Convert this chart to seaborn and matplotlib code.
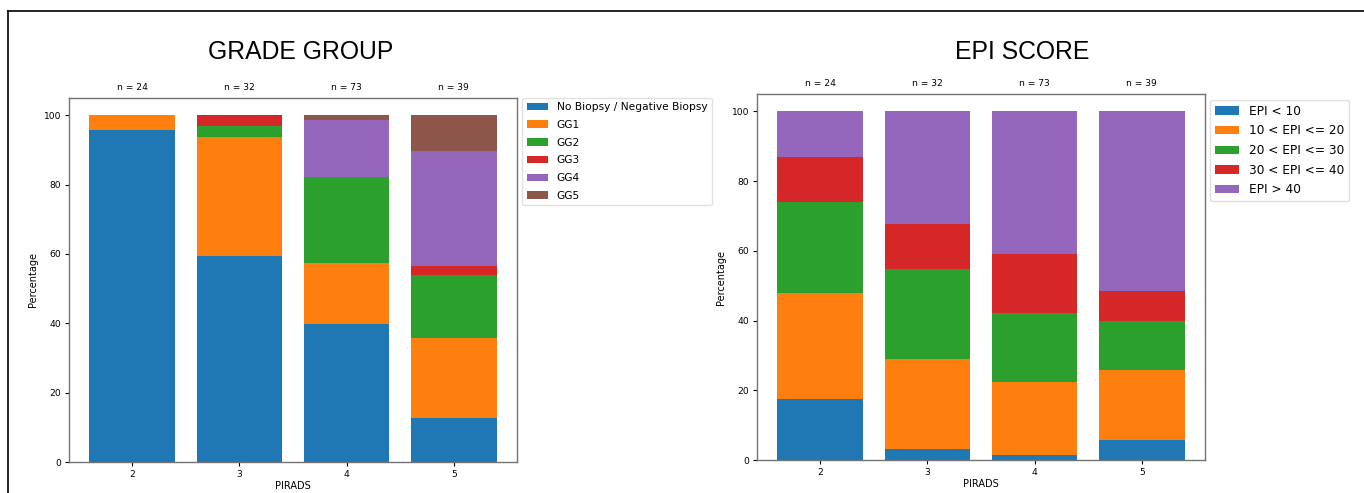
import matplotlib
matplotlib.use("Agg")
import matplotlib.pyplot as plt
from matplotlib.lines import Line2D
import seaborn as sns
import numpy as np

# PIRADS categories and cohort sizes
pirads = ["2", "3", "4", "5"]
n_labels = ["n = 24", "n = 32", "n = 73", "n = 39"]

# Grade group distribution (% of patients per PIRADS category)
gg_names = ["No Biopsy / Negative Biopsy", "GG1", "GG2", "GG3", "GG4", "GG5"]
gg_neg = [95.8, 59.4, 39.7, 12.8]
gg_1 = [4.2, 34.4, 17.8, 23.1]
gg_2 = [0.0, 3.1, 24.7, 17.9]
gg_3 = [0.0, 3.1, 0.0, 2.6]
gg_4 = [0.0, 0.0, 16.4, 33.3]
gg_5 = [0.0, 0.0, 1.4, 10.3]

# EPI score distribution (% of patients per PIRADS category)
epi_names = ["EPI < 10", "10 < EPI <= 20", "20 < EPI <= 30", "30 < EPI <= 40", "EPI > 40"]
epi_lt10 = [17.4, 3.2, 1.4, 5.7]
epi_10_20 = [30.4, 25.8, 21.1, 20.0]
epi_20_30 = [26.1, 25.8, 19.7, 14.3]
epi_30_40 = [13.0, 12.9, 16.9, 8.6]
epi_gt40 = [13.1, 32.3, 40.9, 51.4]

palette = sns.color_palette("tab10")

W, H = 1364, 493
fig = plt.figure(figsize=(W / 100, H / 100), dpi=100)
fig.patch.set_facecolor("white")

tick_fs = 6.6


def stacked(ax, series, names, legend_fs, legend_top, spacing):
    bottom = np.zeros(len(pirads))
    for i, (vals, name) in enumerate(zip(series, names)):
        sns.barplot(x=pirads, y=vals, ax=ax, color=palette[i], bottom=bottom.copy(),
                    label=name, width=0.8, saturation=1, linewidth=0)
        bottom += np.asarray(vals)
    ax.set_xlim(-0.59, 3.59)
    ax.set_ylim(0, 105)
    ax.set_yticks([0, 20, 40, 60, 80, 100])
    ax.set_xlabel("PIRADS", fontsize=tick_fs + 0.4, labelpad=2)
    ax.set_ylabel("Percentage", fontsize=tick_fs + 0.4)
    ax.tick_params(labelsize=tick_fs, length=3, width=0.8, pad=2.5)
    for s in ax.spines.values():
        s.set_visible(True)
        s.set_color("0.45")
        s.set_linewidth(1.0)
    for x, lab in enumerate(n_labels):
        ax.text(x, 1.03, lab, transform=ax.get_xaxis_transform(), ha="center",
                va="center", fontsize=tick_fs)
    leg = ax.legend(loc="upper left", bbox_to_anchor=(1.012, legend_top), fontsize=legend_fs,
                    frameon=True, handlelength=2.0, borderaxespad=0.0,
                    labelspacing=spacing)
    leg.get_frame().set_edgecolor("0.85")


axL = fig.add_axes([69 / W, 1 - 462 / H, 448 / W, 364 / H])
stacked(axL, [gg_neg, gg_1, gg_2, gg_3, gg_4, gg_5], gg_names, 7.7, 1.0, 0.72)

axR = fig.add_axes([757 / W, 1 - 460 / H, 448 / W, 366 / H])
stacked(axR, [epi_lt10, epi_10_20, epi_20_30, epi_30_40, epi_gt40], epi_names, 8.7, 0.984, 0.55)

fig.text(301 / W, 1 - 52 / H, "GRADE GROUP", ha="center", va="center",
         fontsize=17.8, family="Liberation Sans")
fig.text(1022 / W, 1 - 52 / H, "EPI SCORE", ha="center", va="center",
         fontsize=17.8, family="Liberation Sans")

# outer frame along top and left edges
fig.add_artist(Line2D([8 / W, 1.0], [1 - 11 / H, 1 - 11 / H], color="black",
                      linewidth=1.2, transform=fig.transFigure))
fig.add_artist(Line2D([8 / W, 8 / W], [0.0, 1 - 11 / H], color="black",
                      linewidth=1.2, transform=fig.transFigure))

fig.savefig("out.png", dpi=100, facecolor="white")
